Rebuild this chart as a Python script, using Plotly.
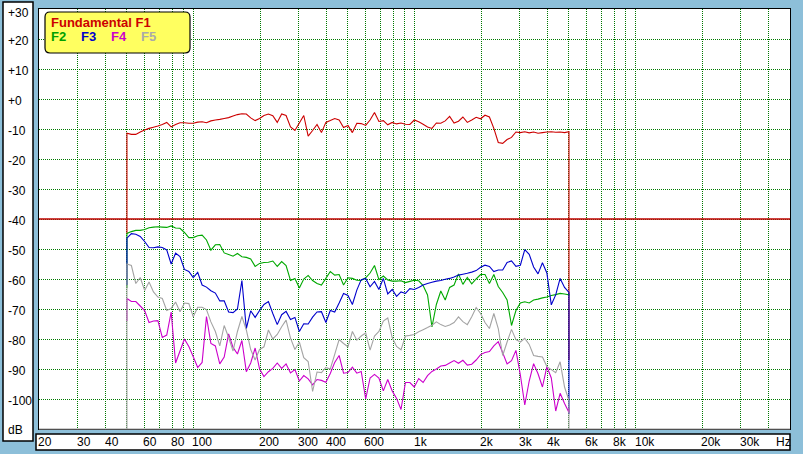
import math
import plotly.graph_objects as go

# ---------------- data ----------------
FREQ_HZ = [50.0, 52.36, 54.83, 57.41, 60.12, 62.95, 65.92, 69.02, 72.27, 75.68,
           79.25, 82.98, 86.89, 90.99, 95.28, 99.77, 104.5, 109.4, 114.5, 119.9,
           125.6, 131.5, 137.7, 144.2, 151.0, 158.1, 165.6, 173.4, 181.5, 190.1,
           199.1, 208.4, 218.3, 228.5, 239.3, 250.6, 262.4, 274.8, 287.7, 301.3,
           315.5, 330.3, 345.9, 362.2, 379.3, 397.2, 415.9, 435.5, 456.0, 477.5,
           500.0, 523.6, 548.3, 574.1, 601.3, 629.5, 659.2, 690.2, 722.7, 756.8,
           792.5, 829.8, 868.9, 909.9, 952.8, 997.7, 1044.7, 1093.9, 1145.5, 1199.4,
           1255.9, 1315.1, 1377.1, 1442.0, 1510.0, 1581.2, 1655.6, 1733.7, 1815.4, 1901.0,
           1990.5, 2084.4, 2182.6, 2285.5, 2393.1, 2505.9, 2624.0, 2747.7, 2877.1, 3012.7,
           3154.6, 3303.3, 3458.9, 3621.8, 3792.5, 3971.2, 4158.3, 4354.3, 4559.4, 4774.3,
           5000.0]

F1_DB = [-11.4, -11.8, -11.8, -11.0, -10.3, -9.8, -9.4, -9.0, -8.5, -7.8,
         -9.3, -8.5, -7.9, -7.9, -8.1, -8.1, -7.7, -7.6, -7.9, -7.3,
         -7.0, -6.8, -6.5, -6.2, -5.7, -5.2, -4.9, -5.0, -6.3, -7.2,
         -6.5, -5.5, -5.0, -5.6, -7.8, -5.0, -5.5, -9.3, -10.5, -8.0,
         -5.5, -12.4, -10.5, -8.5, -11.2, -7.8, -7.2, -6.5, -7.0, -9.5,
         -8.8, -11.2, -8.1, -8.2, -8.8, -7.0, -4.5, -7.5, -7.2, -8.6,
         -7.8, -8.3, -8.0, -8.4, -8.5, -7.0, -7.6, -8.4, -9.3, -9.8,
         -8.0, -8.1, -7.3, -5.8, -8.0, -7.4, -6.0, -7.8, -7.0, -6.1,
         -6.6, -5.4, -6.0, -9.8, -14.5, -14.8, -13.5, -12.8, -11.0, -11.2,
         -10.9, -11.3, -11.0, -11.4, -11.2, -11.0, -10.9, -11.1, -11.0, -11.2,
         -10.9]

F2_DB = [-44.8, -44.2, -43.8, -43.8, -43.5, -42.9, -42.7, -42.6, -42.7, -42.8,
         -42.3, -43.0, -43.1, -44.5, -46.2, -46.2, -45.6, -45.4, -47.0, -50.4,
         -48.6, -48.5, -51.3, -51.8, -52.4, -51.5, -52.6, -52.8, -53.3, -55.8,
         -54.8, -54.5, -54.4, -54.0, -55.8, -54.2, -55.5, -60.5, -59.8, -63.0,
         -60.0, -58.8, -60.5, -61.5, -62.0, -59.8, -57.5, -58.7, -58.5, -62.0,
         -59.6, -59.8, -60.4, -60.5, -59.6, -58.0, -55.5, -60.2, -59.0, -60.3,
         -60.7, -60.7, -60.6, -61.2, -60.8, -60.4, -60.6, -62.2, -65.3, -76.0,
         -68.5, -64.0, -67.0, -62.8, -62.0, -58.3, -61.8, -59.5, -61.6, -60.0,
         -58.5, -58.5, -61.5, -58.5, -62.5, -64.5, -67.0, -75.5, -70.5, -68.0,
         -67.6, -68.0, -67.0, -66.7, -66.3, -66.0, -65.5, -65.2, -64.8, -65.0,
         -65.3]

F3_DB = [-46.4, -44.9, -45.1, -45.8, -47.5, -49.5, -49.6, -49.3, -49.5, -50.3,
         -55.0, -51.4, -52.5, -56.8, -57.5, -59.5, -57.8, -62.0, -62.7, -63.9,
         -64.7, -67.3, -67.3, -71.0, -71.2, -70.0, -60.5, -76.5, -70.6, -72.8,
         -70.5, -68.5, -67.5, -71.5, -75.2, -71.9, -70.8, -73.5, -72.8, -77.5,
         -74.9, -75.0, -72.7, -71.0, -70.9, -74.5, -70.5, -71.0, -68.0, -64.8,
         -65.5, -68.5, -63.7, -60.2, -59.8, -62.6, -60.8, -63.5, -59.8, -65.0,
         -63.5, -65.8, -64.3, -64.8, -63.2, -63.5, -62.8, -62.0, -61.5, -61.1,
         -60.7, -60.5, -60.1, -59.8, -59.3, -58.7, -58.4, -58.1, -57.7, -57.2,
         -56.1, -55.4, -55.8, -57.5, -57.0, -57.0, -54.5, -54.0, -55.8, -55.4,
         -50.2, -51.8, -56.0, -58.3, -54.6, -58.0, -68.6, -65.3, -59.8, -62.8,
         -64.5]

F4_DB = [-66.5, -67.5, -67.5, -69.0, -70.5, -74.5, -74.0, -73.9, -79.5, -78.7,
         -71.0, -88.0, -84.0, -80.0, -82.5, -85.9, -89.5, -87.8, -72.5, -81.5,
         -82.3, -88.3, -86.0, -78.3, -82.8, -85.0, -80.5, -90.9, -88.0, -83.0,
         -90.0, -92.5, -90.9, -89.8, -88.0, -89.8, -88.3, -91.3, -90.2, -94.0,
         -92.2, -93.3, -95.3, -93.5, -93.8, -94.4, -91.5, -87.8, -85.5, -91.4,
         -91.2, -89.4, -91.4, -90.8, -100.0, -93.0, -91.8, -93.0, -97.3, -93.5,
         -97.3, -99.8, -103.5, -94.5, -94.5, -96.0, -93.2, -94.5, -92.2, -90.8,
         -90.0, -89.0, -88.8, -88.0, -87.2, -88.1, -87.1, -88.7, -88.4, -87.0,
         -85.2, -84.5, -84.2, -82.3, -80.9, -84.6, -88.3, -87.2, -83.8, -92.0,
         -102.0, -94.0, -88.2, -91.6, -96.0, -89.2, -93.0, -104.0, -98.1, -101.5,
         -104.5]

F5_DB = [-55.0, -55.5, -61.5, -59.5, -63.8, -61.0, -64.3, -66.0, -66.5, -70.5,
         -69.8, -67.7, -70.9, -68.0, -68.2, -72.6, -69.4, -69.4, -70.2, -74.3,
         -77.5, -82.3, -75.5, -79.5, -84.0, -77.5, -72.5, -77.0, -83.5, -87.0,
         -83.5, -82.6, -77.0, -80.0, -78.5, -75.9, -73.7, -79.7, -83.5, -81.0,
         -86.2, -87.5, -97.5, -91.0, -91.2, -89.5, -90.0, -85.1, -80.2, -81.5,
         -82.6, -77.5, -80.4, -79.0, -78.0, -83.7, -79.0, -77.5, -74.0, -73.0,
         -79.5, -82.5, -83.6, -79.0, -78.8, -78.5, -77.6, -76.9, -76.2, -75.4,
         -74.3, -75.2, -75.8, -75.3, -74.5, -72.6, -74.2, -75.2, -72.6, -69.5,
         -71.5, -74.5, -76.5, -71.5, -76.5, -85.5, -81.0, -76.8, -80.2, -81.0,
         -79.8, -81.8, -85.5, -85.8, -86.0, -89.2, -90.2, -91.2, -87.6, -96.0,
         -100.5]

# levels each trace starts from / falls to at the band edges
START_FLOOR_DB = [-45.0, -63.0, -62.0, -74.0, -125.0]
END_FLOOR_DB = [-87.0, -65.0, -105.0, -103.0, -125.0]

TRACE_NAMES = ["F1", "F2", "F3", "F4", "F5"]
LEGEND_TITLE = "Fundamental F1"
REF_LEVEL_DB = -40

X_TICK_VALUES = [20, 30, 40, 50, 60, 70, 80, 90, 100, 200, 300, 400, 500, 600, 700, 800, 900,
                 1000, 2000, 3000, 4000, 5000, 6000, 7000, 8000, 9000, 10000, 20000, 30000, 40000]
X_LABEL_VALUES = [20, 30, 40, 60, 80, 100, 200, 300, 400, 600, 1000, 2000, 3000, 4000,
                  6000, 8000, 10000, 20000, 30000]
X_LABEL_TEXT = ["20", "30", "40", "60", "80", "100", "200", "300", "400", "600", "1k", "2k",
                "3k", "4k", "6k", "8k", "10k", "20k", "30k"]
Y_TICK_VALUES = [30, 20, 10, 0, -10, -20, -30, -40, -50, -60, -70, -80, -90, -100]
Y_LABEL_TEXT = ["+30", "+20", "+10", "+0", "-10", "-20", "-30", "-40", "-50", "-60",
                "-70", "-80", "-90", "-100"]
X_RANGE_HZ = [20, 50000]
Y_RANGE_DB = [-110, 30]

# ---------------- style / layout ----------------
W, H = 803, 454
L, R, T, B = 39, 13, 9, 25
PW, PH = W - L - R, H - T - B
BG = "#8dbfd9"
COLORS = ["#cc0000", "#00a800", "#0000cc", "#cc00cc", "#a4a4a4"]
LEG_COLORS = ["#cc0000", "#00a000", "#0000cc", "#cc00cc", "#aaaaaa"]
FONT = "Liberation Sans, Arial, sans-serif"


def px(x):
    return (x - L) / PW


def py(y):
    return (H - B - y) / PH


fig = go.Figure()
series = [F1_DB, F2_DB, F3_DB, F4_DB, F5_DB]
for name, vals, s0, s1, col in zip(TRACE_NAMES, series, START_FLOOR_DB, END_FLOOR_DB, COLORS):
    xs = [FREQ_HZ[0]] + FREQ_HZ + [FREQ_HZ[-1]]
    ys = [s0] + vals + [s1]
    fig.add_trace(go.Scatter(x=xs, y=ys, mode="lines", name=name,
                             line=dict(color=col, width=1.1, simplify=False),
                             showlegend=False, hoverinfo="skip"))

fig.add_hline(y=REF_LEVEL_DB, line=dict(color="#c00000", width=1.4), layer="above")

shapes = []
# y label panel
shapes.append(dict(type="rect", xref="paper", yref="paper", x0=px(3), x1=px(33), y0=py(441), y1=py(2),
                   fillcolor="white", line=dict(color="black", width=1.5), layer="below"))
# x label panel
shapes.append(dict(type="rect", xref="paper", yref="paper", x0=px(36), x1=px(790), y0=py(450), y1=py(434),
                   fillcolor="white", line=dict(color="black", width=1.5), layer="below"))
# grey bottom edge of plot frame
shapes.append(dict(type="line", xref="paper", yref="paper", x0=0, x1=1, y0=0, y1=0,
                   line=dict(color="#a0a0a0", width=1.2), layer="above"))


def rrect(x0, y0, x1, y1, r):
    a0, a1 = px(x0), px(x1)
    b0, b1 = py(y0), py(y1)
    rx, ry = r / PW, r / PH
    return (f"M {a0+rx},{b0} L {a1-rx},{b0} Q {a1},{b0} {a1},{b0-ry} "
            f"L {a1},{b1+ry} Q {a1},{b1} {a1-rx},{b1} L {a0+rx},{b1} "
            f"Q {a0},{b1} {a0},{b1+ry} L {a0},{b0-ry} Q {a0},{b0} {a0+rx},{b0} Z")


shapes.append(dict(type="path", xref="paper", yref="paper", path=rrect(45, 12, 190, 53, 5),
                   fillcolor="#ffff60", line=dict(color="black", width=1.2), layer="above"))
fig.update_layout(shapes=list(fig.layout.shapes) + shapes)

ann = []
for v, t in zip(Y_TICK_VALUES, Y_LABEL_TEXT):
    ann.append(dict(xref="paper", yref="y", x=px(6), y=v, text=t, showarrow=False,
                    xanchor="left", yanchor="middle", yshift=-2 if v < 30 else -4,
                    font=dict(family=FONT, size=12, color="black")))
ann.append(dict(xref="paper", yref="paper", x=px(6), y=py(430), text="dB", showarrow=False,
                xanchor="left", yanchor="middle", font=dict(family=FONT, size=12, color="black")))
for v, t in zip(X_LABEL_VALUES, X_LABEL_TEXT):
    ann.append(dict(xref="x", yref="paper", x=math.log10(v), y=py(442), text=t, showarrow=False,
                    xanchor="left", yanchor="middle", xshift=-3,
                    font=dict(family=FONT, size=12, color="black")))
ann.append(dict(xref="paper", yref="paper", x=px(774), y=py(442), text="Hz", showarrow=False,
                xanchor="left", yanchor="middle", font=dict(family=FONT, size=12, color="black")))
ann.append(dict(xref="paper", yref="paper", x=px(49), y=py(22), text="<b>" + LEGEND_TITLE + "</b>",
                showarrow=False, xanchor="left", yanchor="middle",
                font=dict(family=FONT, size=13, color=LEG_COLORS[0])))
for i, (n, c) in enumerate(zip(TRACE_NAMES[1:], LEG_COLORS[1:])):
    ann.append(dict(xref="paper", yref="paper", x=px(49 + 30 * i), y=py(36.5), text="<b>" + n + "</b>",
                    showarrow=False, xanchor="left", yanchor="middle",
                    font=dict(family=FONT, size=13, color=c)))

fig.update_layout(
    width=W, height=H,
    margin=dict(l=L, r=R, t=T, b=B, pad=0, autoexpand=False),
    paper_bgcolor=BG, plot_bgcolor="white",
    annotations=ann,
    showlegend=False,
    xaxis=dict(type="log", range=[math.log10(X_RANGE_HZ[0]), math.log10(X_RANGE_HZ[1])],
               tickvals=X_TICK_VALUES, showticklabels=False, ticks="",
               showgrid=True, gridcolor="#007800", griddash="1px,1px", gridwidth=1,
               zeroline=False, showline=True, linecolor="black", linewidth=1, mirror=True,
               fixedrange=True, automargin=False),
    yaxis=dict(range=Y_RANGE_DB, tickvals=Y_TICK_VALUES, showticklabels=False, ticks="",
               showgrid=True, gridcolor="#007800", griddash="1px,1px", gridwidth=1,
               zeroline=False, showline=True, linecolor="black", linewidth=1, mirror=True,
               fixedrange=True, automargin=False),
)

fig.write_html("out.html", config={"displayModeBar": False},
               post_script="document.body.style.margin='0';document.body.style.padding='0';")
